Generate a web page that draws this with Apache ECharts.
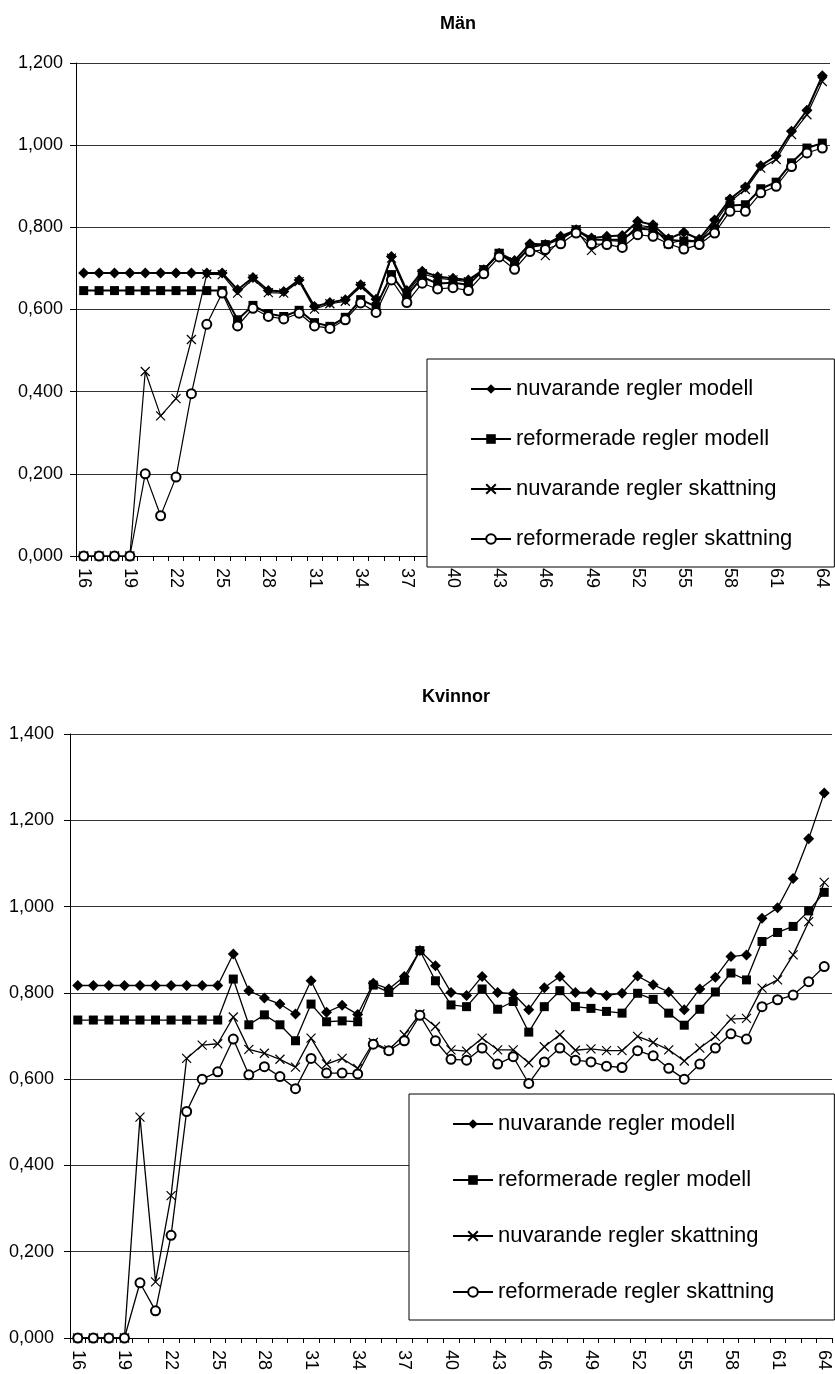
<!DOCTYPE html>
<html>
<head>
<meta charset="utf-8">
<script src="https://cdn.jsdelivr.net/npm/echarts@6/dist/echarts.min.js"></script>
<style>
  html, body { margin: 0; padding: 0; background: #fff; }
  #chart { width: 835px; height: 1374px; }
</style>
</head>
<body>
<div id="chart"></div>
<script>
const AGES = ["16","17","18","19","20","21","22","23","24","25","26","27","28","29","30","31","32","33","34","35","36","37","38","39","40","41","42","43","44","45","46","47","48","49","50","51","52","53","54","55","56","57","58","59","60","61","62","63","64"];

const SERIES_NAMES = [
  "nuvarande regler modell",
  "reformerade regler modell",
  "nuvarande regler skattning",
  "reformerade regler skattning"
];

// Män
const MAN_NUV_MODELL = [0.689,0.689,0.689,0.689,0.689,0.689,0.689,0.689,0.689,0.689,0.648,0.678,0.646,0.644,0.672,0.607,0.617,0.624,0.660,0.625,0.729,0.646,0.693,0.680,0.676,0.672,0.697,0.737,0.719,0.760,0.758,0.778,0.794,0.774,0.778,0.780,0.815,0.806,0.772,0.788,0.771,0.818,0.869,0.898,0.950,0.974,1.034,1.085,1.169];
const MAN_REF_MODELL = [0.646,0.646,0.646,0.646,0.646,0.646,0.646,0.646,0.646,0.646,0.575,0.610,0.590,0.583,0.598,0.568,0.559,0.581,0.624,0.607,0.685,0.633,0.679,0.663,0.665,0.660,0.697,0.737,0.711,0.752,0.758,0.772,0.794,0.770,0.770,0.770,0.797,0.794,0.770,0.766,0.766,0.796,0.853,0.855,0.894,0.910,0.957,0.993,1.005];
const MAN_NUV_SKATT = [0,0,0,0,0.449,0.341,0.383,0.527,0.686,0.685,0.640,0.674,0.641,0.640,0.668,0.601,0.614,0.620,0.656,0.622,0.725,0.640,0.687,0.676,0.672,0.668,0.697,0.735,0.715,0.750,0.731,0.770,0.794,0.744,0.768,0.766,0.805,0.800,0.760,0.770,0.766,0.810,0.863,0.892,0.944,0.965,1.026,1.074,1.155];
const MAN_REF_SKATT = [0,0,0,0,0.200,0.098,0.192,0.395,0.564,0.640,0.560,0.603,0.583,0.577,0.591,0.560,0.554,0.575,0.616,0.593,0.672,0.617,0.664,0.650,0.653,0.646,0.687,0.728,0.698,0.741,0.746,0.760,0.786,0.760,0.758,0.751,0.782,0.778,0.760,0.747,0.758,0.786,0.839,0.839,0.884,0.900,0.948,0.981,0.993];

// Kvinnor
const KV_NUV_MODELL = [0.817,0.817,0.817,0.817,0.817,0.817,0.817,0.817,0.817,0.817,0.890,0.805,0.788,0.774,0.751,0.828,0.755,0.771,0.750,0.822,0.809,0.838,0.898,0.863,0.801,0.794,0.838,0.801,0.798,0.761,0.812,0.838,0.801,0.801,0.794,0.799,0.839,0.819,0.802,0.761,0.809,0.836,0.884,0.888,0.973,0.997,1.065,1.157,1.263];
const KV_REF_MODELL = [0.737,0.737,0.737,0.737,0.737,0.737,0.737,0.737,0.737,0.737,0.832,0.726,0.749,0.726,0.689,0.774,0.733,0.735,0.733,0.818,0.801,0.829,0.898,0.828,0.772,0.768,0.809,0.762,0.780,0.709,0.768,0.805,0.768,0.764,0.757,0.753,0.799,0.785,0.753,0.725,0.762,0.802,0.846,0.830,0.919,0.940,0.954,0.990,1.033];
const KV_NUV_SKATT = [0,0,0,0,0.512,0.130,0.330,0.648,0.679,0.682,0.744,0.669,0.660,0.646,0.628,0.695,0.635,0.648,0.625,0.685,0.668,0.703,0.751,0.722,0.668,0.665,0.695,0.668,0.668,0.638,0.675,0.703,0.667,0.670,0.666,0.666,0.699,0.685,0.668,0.642,0.672,0.699,0.739,0.741,0.811,0.830,0.888,0.965,1.056];
const KV_REF_SKATT = [0,0,0,0,0.128,0.063,0.238,0.525,0.600,0.617,0.693,0.610,0.629,0.606,0.578,0.648,0.614,0.614,0.612,0.681,0.666,0.689,0.748,0.689,0.646,0.644,0.672,0.635,0.652,0.590,0.640,0.672,0.644,0.640,0.630,0.627,0.666,0.654,0.625,0.600,0.635,0.672,0.705,0.693,0.768,0.784,0.795,0.826,0.861];

const FONT = "Liberation Sans, Arial, sans-serif";
const CROSS = "path://M0,0L10,10M0,10L10,0";

const MARKERS = [
  { symbol: "diamond", symbolSize: 11 },
  { symbol: "rect", symbolSize: 9 },
  { symbol: CROSS, symbolSize: 9 },
  { symbol: "emptyCircle", symbolSize: 9 }
];

function fmt(v) {
  return v.toFixed(3).replace(".", ",");
}

function makeAxes(gridIndex, yMax, yMargin) {
  const xAxis = {
    type: "category",
    gridIndex,
    data: AGES,
    boundaryGap: true,
    axisLine: { lineStyle: { color: "#000", width: 1 } },
    axisTick: { show: true, length: 5, interval: 0, lineStyle: { color: "#000" } },
    axisLabel: {
      interval: 2,
      rotate: -90,
      color: "#000",
      fontFamily: FONT,
      fontSize: 18,
      margin: 12
    },
    splitLine: { show: false }
  };
  const yAxis = {
    type: "value",
    gridIndex,
    min: 0,
    max: yMax,
    interval: 0.2,
    axisLine: { show: true, lineStyle: { color: "#000", width: 1 } },
    axisTick: { show: true, length: 6, lineStyle: { color: "#000" } },
    axisLabel: {
      formatter: fmt,
      color: "#000",
      fontFamily: FONT,
      fontSize: 18,
      margin: yMargin
    },
    splitLine: { show: true, lineStyle: { color: "#333", width: 1 } }
  };
  return { xAxis, yAxis };
}

function makeSeries(gridIndex, arrays, widths) {
  return arrays.map((data, i) => ({
    name: SERIES_NAMES[i],
    type: "line",
    xAxisIndex: gridIndex,
    yAxisIndex: gridIndex,
    data,
    symbol: MARKERS[i].symbol,
    symbolSize: MARKERS[i].symbolSize,
    showAllSymbol: true,
    lineStyle: { color: "#000", width: widths[i] },
    itemStyle: {
      color: "#000",
      borderColor: "#000",
      borderWidth: i === 2 ? 1.2 : (i === 3 ? 1 : 0)
    },
    emphasis: { disabled: true },
    z: 3 + i
  }));
}

function makeLegend(left, topPos, gap, padRight) {
  return {
    orient: "vertical",
    left,
    top: topPos,
    data: SERIES_NAMES,
    backgroundColor: "#fff",
    borderColor: "#000",
    borderWidth: 1,
    padding: [18, padRight, 16, 43],
    itemGap: gap,
    itemWidth: 40,
    itemHeight: 12,
    selectedMode: false,
    textStyle: { color: "#000", fontFamily: FONT, fontSize: 22, lineHeight: 24 },
    z: 10
  };
}

const manAxes = makeAxes(0, 1.2, 13);
const kvAxes = makeAxes(1, 1.4, 16);

const option = {
  animation: false,
  backgroundColor: "#fff",
  title: [
    { text: "Män", left: 453, top: 10, textAlign: "center",
      textStyle: { fontFamily: FONT, fontSize: 18, fontWeight: "bold", color: "#000" } },
    { text: "Kvinnor", left: 451, top: 683, textAlign: "center",
      textStyle: { fontFamily: FONT, fontSize: 18, fontWeight: "bold", color: "#000" } }
  ],
  grid: [
    { left: 76, top: 63, width: 754, height: 493 },
    { left: 70, top: 734, width: 762, height: 604 }
  ],
  xAxis: [manAxes.xAxis, kvAxes.xAxis],
  yAxis: [manAxes.yAxis, kvAxes.yAxis],
  legend: [
    makeLegend(427, 359, 26, 42),
    makeLegend(409, 1094, 32, 60)
  ],
  series: [
    ...makeSeries(0, [MAN_NUV_MODELL, MAN_REF_MODELL, MAN_NUV_SKATT, MAN_REF_SKATT], [2, 2, 1.2, 1.2]),
    ...makeSeries(1, [KV_NUV_MODELL, KV_REF_MODELL, KV_NUV_SKATT, KV_REF_SKATT], [1.3, 1.3, 1.3, 1.3])
  ]
};

const chart = echarts.init(document.getElementById("chart"));
chart.setOption(option);
window.addEventListener("resize", () => chart.resize());
</script>
</body>
</html>
